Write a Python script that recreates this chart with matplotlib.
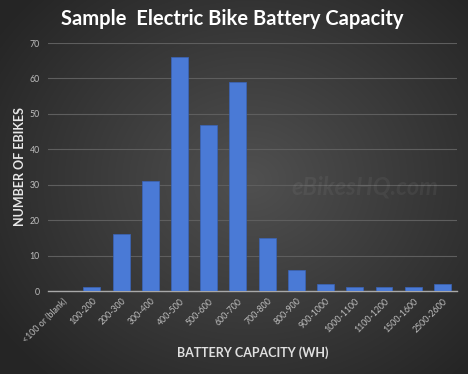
import numpy as np
import matplotlib
matplotlib.use("Agg")
import matplotlib.pyplot as plt

categories = ["<100 or (blank)", "100-200", "200-300", "300-400", "400-500", "500-600",
              "600-700", "700-800", "800-900", "900-1000", "1000-1100", "1100-1200",
              "1500-1600", "2500-2600"]
counts = [0, 1, 16, 31, 66, 47, 59, 15, 6, 2, 1, 1, 1, 2]
y_ticks = [0, 10, 20, 30, 40, 50, 60, 70]

plt.rcParams['font.family'] = ['Lato', 'DejaVu Sans']

fig = plt.figure(figsize=(4.68, 3.74), dpi=100)

# background radial gradient
bg = fig.add_axes([0, 0, 1, 1], zorder=-10)
yy, xx = np.mgrid[0:374, 0:468]
cx, cy = 250, 180
r = np.sqrt(((xx - cx) / 300.0) ** 2 + ((yy - cy) / 260.0) ** 2)
r = np.clip(r, 0, 1)
inner = np.array([0x50, 0x50, 0x50]) / 255.0
outer = np.array([0x26, 0x26, 0x26]) / 255.0
img = inner[None, None, :] * (1 - r[..., None]) + outer[None, None, :] * r[..., None]
bg.imshow(img, aspect='auto', extent=[0, 1, 0, 1])
bg.axis('off')

ax = fig.add_axes([0.1026, 0.2219, 0.874, 0.663])
ax.patch.set_alpha(0)
x = np.arange(len(categories))
ax.bar(x, counts, width=0.58, color='#4a7ad6', edgecolor='#3a64b8', linewidth=0.5, zorder=3)

ax.set_xlim(-0.5, len(categories) - 0.5)
ax.set_ylim(0, 70)
ax.set_yticks(y_ticks)
ax.yaxis.grid(True, color='#5e5e5e', linewidth=0.8, zorder=0)
ax.set_axisbelow(True)
for s in ['top', 'right', 'left']:
    ax.spines[s].set_visible(False)
ax.spines['bottom'].set_color('#a8a8a8')
ax.spines['bottom'].set_linewidth(1.0)
ax.set_xticks(x)
ax.set_xticklabels(categories, rotation=45, ha='right', rotation_mode='anchor')
ax.tick_params(axis='both', length=0, colors='#bdbdbd', labelsize=6.3)
ax.tick_params(axis='y', pad=6)
ax.tick_params(axis='x', pad=4)

fig.text(0.043, 0.556, "NUMBER OF EBIKES", color='#e8e8e8', fontsize=9, fontweight='bold',
         rotation=90, ha='center', va='center')
fig.text(0.54, 0.056, "BATTERY CAPACITY (WH)", color='#e0e0e0', fontsize=9,
         fontweight='bold', ha='center', va='center')
fig.text(0.497, 0.95, "Sample  Electric Bike Battery Capacity", color='white', fontsize=14.5,
         fontweight='bold', ha='center', va='center')

# watermark
fig.text(0.78, 0.5, "eBikesHQ.com", color='white', alpha=0.05, fontsize=17,
         fontweight='bold', style='italic', ha='center', va='center')

fig.savefig("out.png", dpi=100)
